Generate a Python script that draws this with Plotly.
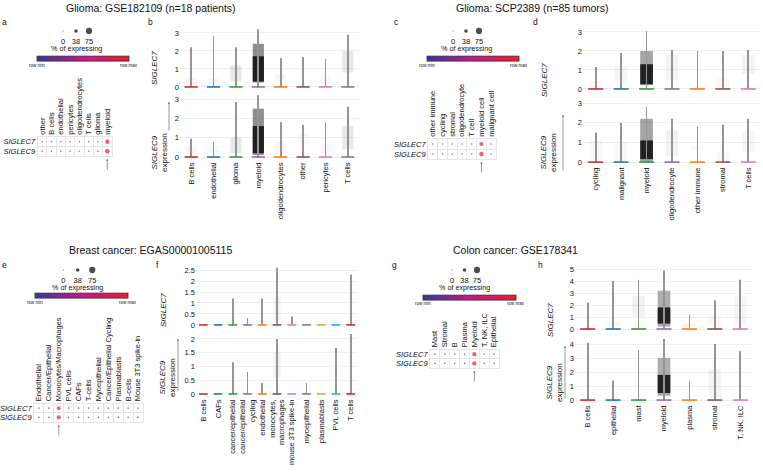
import plotly.graph_objects as go

W, H = 763, 473

# ---------------- data ----------------
legend_pct = [0, 38, 75]
legend_lbl = ["0", "38", "75"]

# dot plots (percent expressing, row-scaled colour 0..1)
a_cols = ["other", "B cells", "endothelial", "pericytes", "oligodendrocytes", "T cells", "glioma", "myeloid"]
a_pct7 = [8, 8, 8, 8, 8, 8, 8, 48]
a_pct9 = [8, 8, 8, 8, 8, 8, 8, 52]
a_col7 = [0.02, 0.02, 0.03, 0.02, 0.03, 0.05, 0.05, 1.0]
a_col9 = [0.02, 0.02, 0.02, 0.02, 0.03, 0.05, 0.05, 1.0]

c_cols = ["other immune", "cycling", "stromal", "oligodendrocyte", "T cell", "myeloid cell", "malignant cell"]
c_pct7 = [8, 8, 8, 8, 8, 45, 8]
c_pct9 = [8, 8, 8, 8, 8, 50, 8]
c_col7 = [0.05, 0.02, 0.03, 0.04, 0.05, 1.0, 0.03]
c_col9 = [0.05, 0.02, 0.03, 0.04, 0.05, 1.0, 0.03]

e_cols = ["Endothelial", "Cancer/Epithelial", "Monocytes/Macrophages", "PVL cells", "CAFs", "T-cells",
          "Myoepithelial", "Cancer/Epithelial Cycling", "Plasmablasts", "B-cells", "Mouse 3T3 spike-in"]
e_pct7 = [8, 8, 40, 8, 8, 8, 8, 8, 8, 8, 8]
e_pct9 = [8, 8, 45, 8, 8, 8, 8, 8, 8, 8, 8]
e_col7 = [0.05, 0.05, 1.0, 0.02, 0.02, 0.08, 0.03, 0.05, 0.02, 0.02, 0.05]
e_col9 = [0.05, 0.05, 1.0, 0.05, 0.02, 0.08, 0.05, 0.05, 0.02, 0.02, 0.02]

g_cols = ["Mast", "Stromal", "B", "Plasma", "Myeloid", "T, NK, ILC", "Epithelial"]
g_pct7 = [8, 8, 8, 8, 45, 8, 8]
g_pct9 = [8, 8, 8, 8, 48, 8, 8]
g_col7 = [0.08, 0.03, 0.02, 0.02, 1.0, 0.05, 0.02]
g_col9 = [0.03, 0.05, 0.02, 0.02, 1.0, 0.03, 0.02]

# violin / strip panels: max value, point cloud range + density, dense core range
b_cats = ["B cells", "endothelial", "glioma", "myeloid", "oligodendrocytes", "other", "pericytes", "T cells"]
b7_max = [2.2, 2.85, 2.2, 3.2, 1.6, 1.65, 1.55, 2.9]
b7_lo = [0.1, 0.1, 0.3, 0.25, 0.3, 0.0, 0.2, 0.8]
b7_hi = [0.5, 0.5, 1.2, 2.4, 0.7, 0.0, 0.6, 2.0]
b7_den = [0.03, 0.03, 0.1, 0.5, 0.04, 0.0, 0.03, 0.1]
b7_clo = [0, 0, 0, 0.3, 0, 0, 0, 0]
b7_chi = [0, 0, 0, 1.7, 0, 0, 0, 0]
b9_max = [0.95, 0.8, 2.85, 3.2, 1.8, 1.65, 1.8, 2.6]
b9_lo = [0.2, 0.2, 0.2, 0.1, 0.2, 0.7, 0.2, 0.4]
b9_hi = [0.6, 0.5, 1.0, 2.5, 0.8, 1.2, 0.7, 1.6]
b9_den = [0.03, 0.03, 0.1, 0.5, 0.04, 0.03, 0.03, 0.1]
b9_clo = [0, 0, 0, 0.2, 0, 0, 0, 0]
b9_chi = [0, 0, 0, 1.6, 0, 0, 0, 0]

d_cats = ["cycling", "malignant", "myeloid", "oligodendrocyte", "other immune", "stromal", "T cells"]
d7_max = [1.15, 1.9, 3.05, 2.05, 2.0, 2.0, 2.05]
d7_lo = [0.1, 0.2, 0.2, 0.5, 0.0, 0.1, 0.8]
d7_hi = [0.4, 1.2, 2.0, 1.8, 0.0, 0.6, 1.8]
d7_den = [0.03, 0.04, 0.4, 0.05, 0.0, 0.03, 0.06]
d7_clo = [0, 0, 0.25, 0, 0, 0, 0]
d7_chi = [0, 0, 1.3, 0, 0, 0, 0]
d9_max = [1.5, 2.0, 2.8, 2.2, 1.8, 1.9, 2.2]
d9_lo = [0.1, 0.1, 0.0, 0.3, 0.6, 0.1, 0.5]
d9_hi = [1.1, 1.0, 2.2, 1.6, 0.8, 0.5, 1.6]
d9_den = [0.03, 0.03, 0.4, 0.06, 0.03, 0.03, 0.04]
d9_clo = [0, 0, 0.15, 0, 0, 0, 0]
d9_chi = [0, 0, 1.1, 0, 0, 0, 0]

f_cats = ["B cells", "CAFs", "cancer/epithelial", "cancer/epithelial<br>cycling", "endothelial",
          "monocytes,<br>macrophages", "mouse 3T3 spike-in", "myoepithelial", "plasmablasts", "PVL cells", "T cells"]
f7_max = [0, 0, 1.2, 0.32, 1.2, 2.6, 0.38, 0, 0, 0, 2.3]
f7_lo = [0, 0, 0, 0, 0, 0.2, 0, 0, 0, 0, 0]
f7_hi = [0, 0, 0, 0, 0, 1.3, 0, 0, 0, 0, 0]
f7_den = [0, 0, 0, 0, 0, 0.05, 0, 0, 0, 0, 0]
f7_clo = [0] * 11
f7_chi = [0] * 11
f9_max = [0, 0, 1.15, 0.8, 0.4, 2.0, 0, 0.4, 0, 1.67, 2.18]
f9_lo = [0, 0, 0, 0, 0, 0.6, 0, 0, 0, 0, 0]
f9_hi = [0, 0, 0, 0, 0, 1.5, 0, 0, 0, 0, 0]
f9_den = [0, 0, 0, 0, 0, 0.06, 0, 0, 0, 0, 0]
f9_clo = [0] * 11
f9_chi = [0] * 11

h_cats = ["B cells", "epithelial", "mast", "myeloid", "plasma", "stromal", "T, NK, ILC"]
h7_max = [2.2, 4.0, 4.1, 4.9, 1.2, 2.4, 4.1]
h7_lo = [0, 0.2, 1.0, 0.2, 0.2, 0.3, 0.5]
h7_hi = [0, 0.6, 2.8, 3.2, 0.5, 1.2, 2.8]
h7_den = [0, 0.03, 0.06, 0.35, 0.03, 0.03, 0.04]
h7_clo = [0, 0, 0, 0.45, 0, 0, 0]
h7_chi = [0, 0, 0, 1.8, 0, 0, 0]
h9_max = [4.1, 1.4, 3.6, 4.4, 1.4, 4.0, 3.5]
h9_lo = [0, 0, 0, 0.3, 0, 0.2, 0]
h9_hi = [0, 0, 0, 3.0, 0, 2.2, 0]
h9_den = [0, 0, 0, 0.35, 0, 0.05, 0]
h9_clo = [0, 0, 0, 0.5, 0, 0, 0]
h9_chi = [0, 0, 0, 1.8, 0, 0, 0]

TAB = ["#d62728", "#1f77b4", "#2ca02c", "#9467bd", "#ff7f0e", "#8c564b", "#e377c2",
       "#7f7f7f", "#bcbd22", "#17becf", "#d62728"]

# ---------------- helpers ----------------
FONT = "Liberation Sans, Arial, sans-serif"
GRID = "#e6e6e6"
CS = [[0, "#34379a"], [0.5, "#c4168f"], [1, "#ef1d26"]]

fig = go.Figure()
layout = {}
annotations = []
n_ax = [0]


def fx(p):
    return p / W


def fy(p):
    return 1 - p / H


def new_axes(x0, x1, y0, y1, xa, ya):
    n_ax[0] += 1
    s = "" if n_ax[0] == 1 else str(n_ax[0])
    xa.update(domain=[fx(x0), fx(x1)], anchor="y" + s)
    ya.update(domain=[fy(y1), fy(y0)], anchor="x" + s)
    layout["xaxis" + s] = xa
    layout["yaxis" + s] = ya
    return "x" + s, "y" + s


def text(x, y, t, size=7.5, angle=0, **kw):
    annotations.append(dict(x=fx(x), y=fy(y), xref="paper", yref="paper", text=t, showarrow=False,
                            textangle=angle, font=dict(size=size, family=FONT, color="#111"),
                            xanchor=kw.get("xanchor", "center"), yanchor="middle"))


def arrow(x, y, length, xref="paper", xval=None):
    annotations.append(dict(x=xval if xval is not None else fx(x), y=fy(y), xref=xref, yref="paper",
                            text="", showarrow=True, ax=0, ay=length, arrowhead=6, arrowsize=0.7,
                            arrowwidth=0.6, arrowcolor="#555", standoff=0))


def size_of(p):
    return 1 + 0.07 * p


def dot_panel(box, cols, pct7, pct9, col7, col9, leg, cbar):
    x0, x1, y0, y1 = box
    n = len(cols)
    xr, yr = new_axes(x0, x1, y0, y1,
                      dict(type="category", categoryorder="array", categoryarray=cols, range=[-0.5, n - 0.5],
                           side="top", tickangle=-90, tickson="boundaries", showgrid=True, gridcolor=GRID,
                           gridwidth=0.6, ticks="", showline=True, mirror=True, linecolor=GRID, linewidth=0.6,
                           tickfont=dict(size=7.5, family=FONT, color="#111"), zeroline=False),
                      dict(type="category", categoryorder="array", categoryarray=["SIGLEC9", "SIGLEC7"],
                           range=[-0.5, 1.5], tickson="boundaries", showgrid=True, gridcolor=GRID, gridwidth=0.6,
                           ticks="", showline=True, mirror=True, linecolor=GRID, linewidth=0.6,
                           tickfont=dict(size=7.5, family=FONT, color="#111", style="italic"), zeroline=False))
    cx0, cx1, cy = cbar
    fig.add_trace(go.Scatter(
        x=cols + cols, y=["SIGLEC7"] * n + ["SIGLEC9"] * n, mode="markers",
        marker=dict(size=[size_of(p) for p in pct7 + pct9], color=col7 + col9, colorscale=CS,
                    cmin=0, cmax=1, line_width=0, showscale=True,
                    colorbar=dict(orientation="h", x=fx(cx0), xanchor="left", y=fy(cy), yanchor="middle",
                                  lenmode="pixels", len=cx1 - cx0, thicknessmode="pixels", thickness=5,
                                  showticklabels=False, ticks="", outlinewidth=0.8, outlinecolor="#333",
                                  xpad=0, ypad=0)),
        xaxis=xr, yaxis=yr, showlegend=False))
    text(cx0, cy + 6, "row min", size=4.5)
    text(cx1, cy + 6, "row max", size=4.5)
    # size legend
    lx0, lx1, ly = leg
    lr, lyr = new_axes(lx0, lx1, ly - 4, ly + 4,
                       dict(type="category", categoryorder="array", categoryarray=legend_lbl, range=[-0.5, 2.5],
                            showgrid=False, zeroline=False, showline=False, ticks="",
                            tickfont=dict(size=7.5, family=FONT, color="#111")),
                       dict(range=[-1, 1], visible=False))
    fig.add_trace(go.Scatter(x=legend_lbl, y=[0, 0, 0], mode="markers",
                             marker=dict(size=[size_of(p) for p in legend_pct], color="#000", line_width=0),
                             xaxis=lr, yaxis=lyr, showlegend=False))
    text((lx0 + lx1) / 2, ly + 17, "% of expressing", size=7.2)
    hl = cols[col7.index(max(col7))]
    arrow(0, y1 + 4, 11, xref=xr, xval=hl)


def strip(box, cats, vmax, lo, hi, den, clo, chi, yrange, dtick, labels):
    x0, x1, y0, y1 = box
    n = len(cats)
    sp = (x1 - x0) / n
    xr, yr = new_axes(x0, x1, y0, y1,
                      dict(type="category", categoryorder="array", categoryarray=cats, range=[-0.5, n - 0.5],
                           showgrid=False, zeroline=False, showline=False, ticks="", tickangle=-90,
                           showticklabels=labels, tickfont=dict(size=7.5, family=FONT, color="#111")),
                      dict(range=yrange, dtick=dtick, showgrid=True, gridcolor="#efefef", gridwidth=0.6,
                           zeroline=False, showline=False, ticks="",
                           tickfont=dict(size=7.5, family=FONT, color="#111")))
    fig.add_trace(go.Bar(x=cats, y=[h - l for l, h in zip(lo, hi)], base=lo, width=0.5,
                         marker=dict(color=["rgba(30,30,30,%s)" % d for d in den], line_width=0),
                         xaxis=xr, yaxis=yr, showlegend=False))
    fig.add_trace(go.Bar(x=cats, y=[h - l for l, h in zip(clo, chi)], base=clo, width=0.5,
                         marker=dict(color="rgba(10,10,10,0.85)", line_width=0),
                         xaxis=xr, yaxis=yr, showlegend=False))
    fig.add_trace(go.Bar(x=cats, y=vmax, width=0.8 / sp, marker=dict(color="#959595", line_width=0),
                         xaxis=xr, yaxis=yr, showlegend=False))
    fig.add_trace(go.Scatter(x=cats, y=[0] * n, mode="markers",
                             marker=dict(symbol="line-ew", size=sp * 0.42,
                                         line=dict(color=TAB[:n], width=1.6)),
                             xaxis=xr, yaxis=yr, showlegend=False))


# ---------------- panels ----------------
# glioma GSE182109
dot_panel((37.5, 112, 137, 156), a_cols, a_pct7, a_pct9, a_col7, a_col9, (56.5, 95.5, 31), (37, 129, 59.5))
strip((180, 359, 29, 90), b_cats, b7_max, b7_lo, b7_hi, b7_den, b7_clo, b7_chi, [-0.17, 3.22], 1, False)
strip((180, 359, 94, 160), b_cats, b9_max, b9_lo, b9_hi, b9_den, b9_clo, b9_chi, [-0.155, 3.26], 1, True)

# glioma SCP2389
dot_panel((428, 496, 139, 159), c_cols, c_pct7, c_pct9, c_col7, c_col9, (446.5, 485.5, 31), (427, 519, 59.5))
strip((583, 761, 28, 92), d_cats, d7_max, d7_lo, d7_hi, d7_den, d7_clo, d7_chi, [-0.16, 3.21], 1, False)
strip((583, 761, 97, 165), d_cats, d9_max, d9_lo, d9_hi, d9_den, d9_clo, d9_chi, [-0.15, 3.31], 1, True)

# breast cancer
dot_panel((34, 143, 403.5, 422), e_cols, e_pct7, e_pct9, e_col7, e_col9, (56, 99.5, 270), (35, 128, 296))
strip((196, 358, 265, 328), f_cats, f7_max, f7_lo, f7_hi, f7_den, f7_clo, f7_chi, [-0.14, 2.73], 0.5, False)
strip((196, 358, 334, 397), f_cats, f9_max, f9_lo, f9_hi, f9_den, f9_clo, f9_chi, [-0.11, 2.18], 0.5, True)

# colon cancer
dot_panel((430, 499, 349.5, 368), g_cols, g_pct7, g_pct9, g_col7, g_col9, (445.75, 483.25, 270), (423, 516, 297.5))
strip((575, 753, 264, 332), h_cats, h7_max, h7_lo, h7_hi, h7_den, h7_clo, h7_chi, [-0.25, 5.42], 1, False)
strip((575, 753, 339, 403), h_cats, h9_max, h9_lo, h9_hi, h9_den, h9_clo, h9_chi, [-0.21, 4.36], 1, True)

# ---------------- text ----------------
text(151, 8, "Glioma: GSE182109 (n=18 patients)", size=10.5)
text(532, 8, "Glioma: SCP2389 (n=85 tumors)", size=10.5)
text(150, 250, "Breast cancer: EGAS00001005115", size=10.5)
text(515, 250, "Colon cancer: GSE178341", size=10.5)

for lt, lx, ly in [("a", 4, 22), ("b", 150, 22), ("c", 396, 22), ("d", 535, 22),
                   ("e", 4, 265), ("f", 157, 265), ("g", 394, 265), ("h", 540, 265)]:
    text(lx, ly, lt, size=8.5)

for sx, s7y, s9y, ax_, ay0, alen in [(155, 68, 153, 169, 103, 29), (544, 80, 153, 563, 116, 56),
                                     (163, 310, 378, 178, 340, 53), (550, 320, 383, 565, 347, 53)]:
    text(sx, s7y, "<i>SIGLEC7</i>", size=8, angle=-90)
    text(sx + 4, s9y, "<i>SIGLEC9</i><br>expression", size=8, angle=-90)
    arrow(ax_, ay0, alen)

layout.update(
    width=W, height=H, margin=dict(l=0, r=0, t=0, b=0, autoexpand=False),
    paper_bgcolor="white", plot_bgcolor="white", barmode="overlay", hovermode=False,
    font=dict(family=FONT, size=7.5, color="#111"), showlegend=False,
    annotations=annotations,
)
fig.update_layout(**layout)
# page body has a default 8px margin; remove it so the figure sits at the window origin
fig.write_html("out.html", config={"displayModeBar": False},
               post_script="document.body.style.margin='0px';document.body.style.overflow='hidden';")
